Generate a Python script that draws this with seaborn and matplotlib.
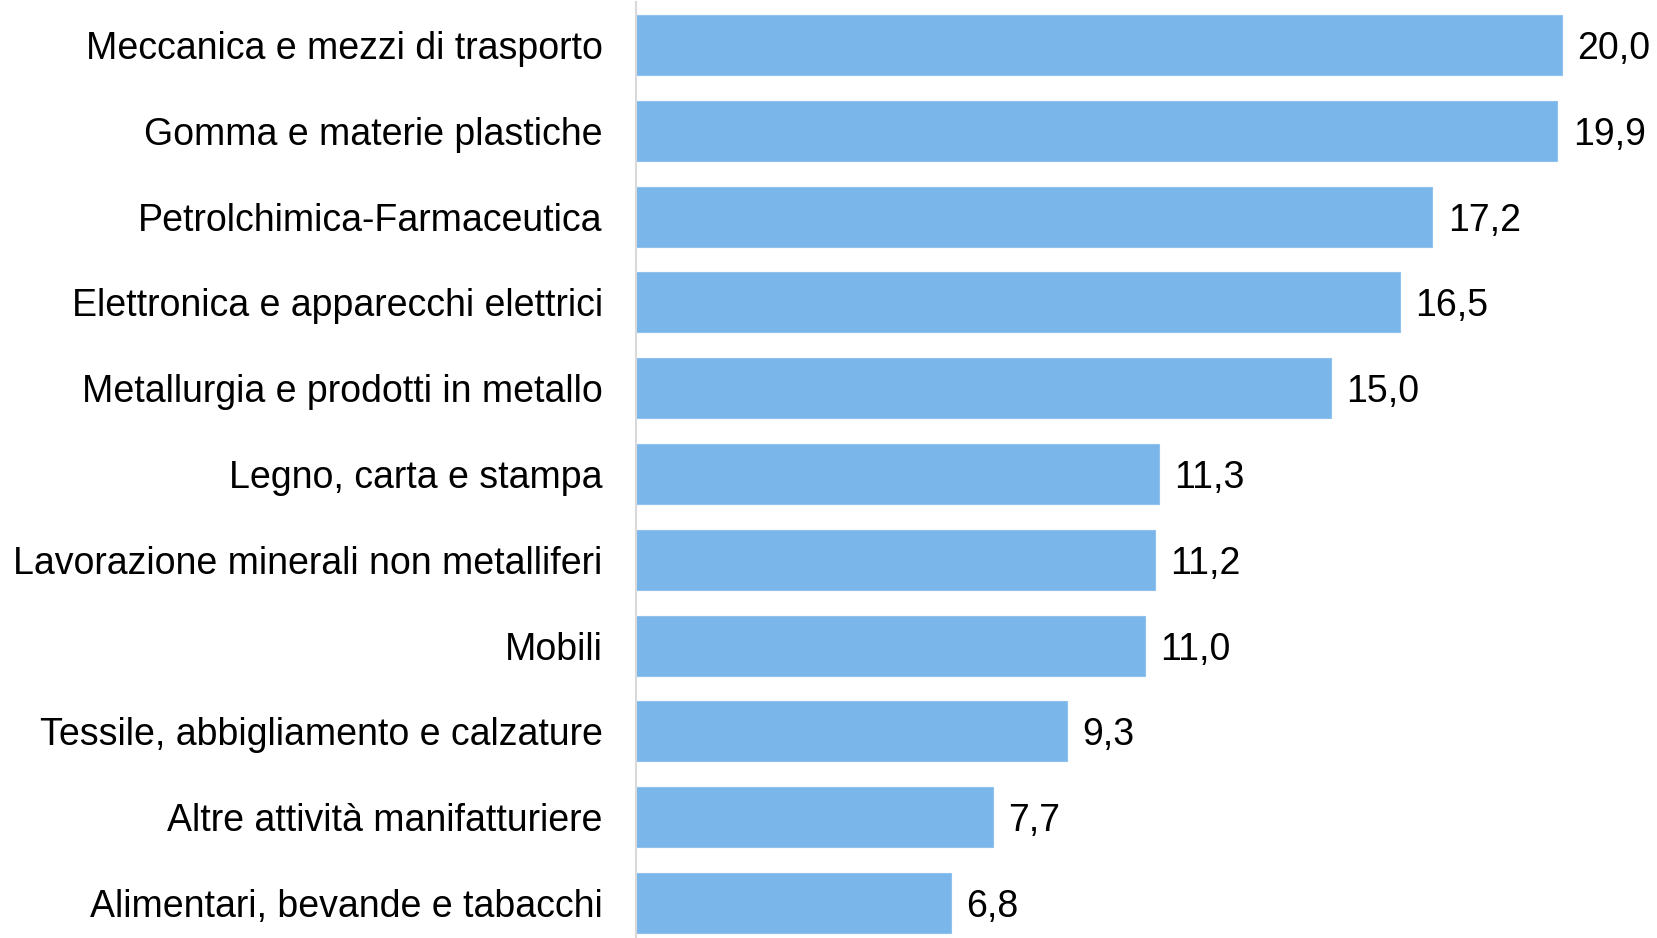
import matplotlib
matplotlib.use("Agg")
import matplotlib.pyplot as plt
import seaborn as sns
import pandas as pd

categories = [
    "Meccanica e mezzi di trasporto",
    "Gomma e materie plastiche",
    "Petrolchimica-Farmaceutica",
    "Elettronica e apparecchi elettrici",
    "Metallurgia e prodotti in metallo",
    "Legno, carta e stampa",
    "Lavorazione minerali non metalliferi",
    "Mobili",
    "Tessile, abbigliamento e calzature",
    "Altre attività manifatturiere",
    "Alimentari, bevande e tabacchi",
]
values = [20.0, 19.9, 17.2, 16.5, 15.0, 11.3, 11.2, 11.0, 9.3, 7.7, 6.8]

sns.set_theme(style="white")
plt.rcParams['font.family'] = ['Liberation Sans', 'DejaVu Sans']

W, H = 1657, 938
fig = plt.figure(figsize=(W / 100, H / 100), dpi=100)
ax = fig.add_axes([636 / W, -8 / H, (W - 636) / W, 944 / H])

df = pd.DataFrame({"cat": categories, "val": values})
sns.barplot(data=df, y="cat", x="val", orient="h", color="#7ab6ea",
            saturation=1, width=0.70, ax=ax, edgecolor="#8fc2ee", linewidth=0.8)

ax.set_xlim(0, 22.05)
ax.set_ylim(len(categories) - 0.5, -0.5)
ax.set_xlabel("")
ax.set_ylabel("")
ax.set_xticks([])
for s in ["top", "right", "bottom"]:
    ax.spines[s].set_visible(False)
ax.spines["left"].set_color("#d9d9d9")
ax.spines["left"].set_linewidth(1.5)
ax.tick_params(axis="y", length=0, pad=24, labelsize=27, labelcolor="black")

for cont in ax.containers:
    texts = ax.bar_label(cont, labels=[f"{v:.1f}".replace(".", ",") for v in values],
                         padding=11, fontsize=27, color="black")
    for t in texts:
        t.set_va("center_baseline")

fig.savefig("out.png", dpi=100)
